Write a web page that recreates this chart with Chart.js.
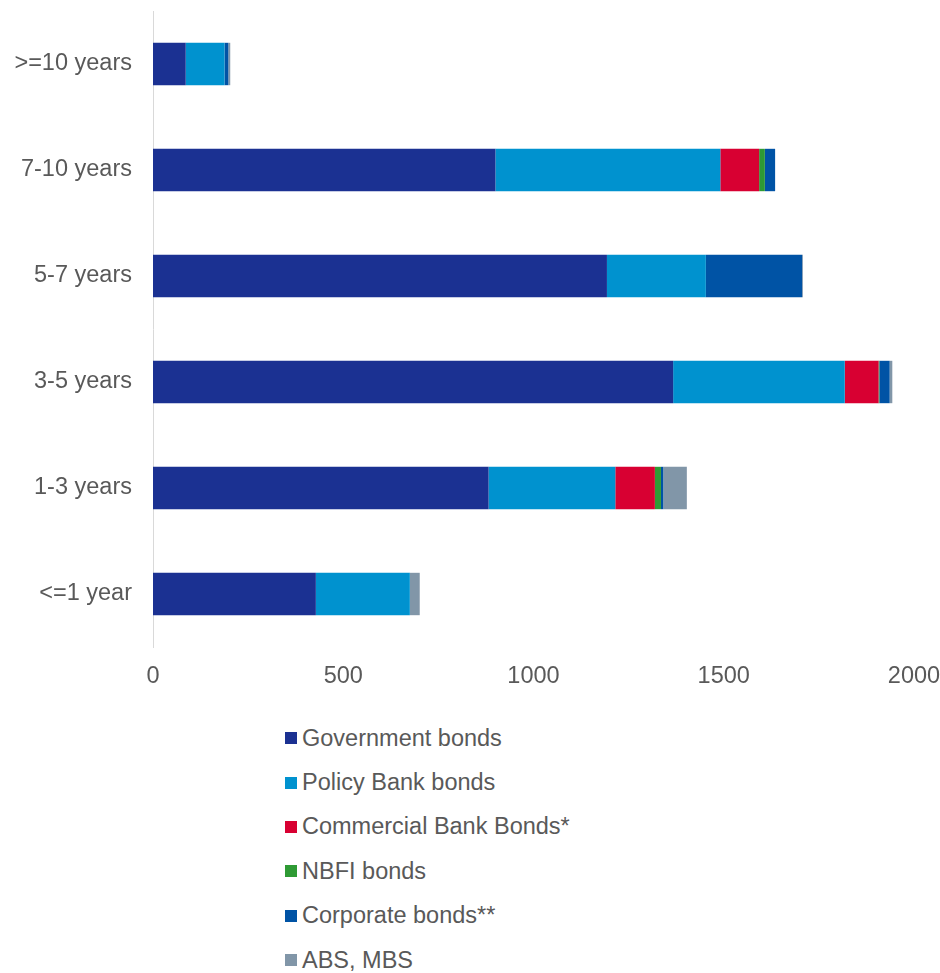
<!DOCTYPE html>
<html>
<head>
<meta charset="utf-8">
<script src="https://cdn.jsdelivr.net/npm/chart.js@4"></script>
<style>
  body { margin: 0; background: #fff; font-family: "Liberation Sans", Arial, sans-serif; }
  #wrap { position: relative; width: 940px; height: 973px; }
  #chart-box { position: absolute; left: 0; top: 0; width: 940px; height: 700px; }
  #legend { position: absolute; left: 285px; top: 716px; margin: 0; padding: 0; list-style: none; }
  #legend li { height: 44.4px; display: flex; align-items: center; font-size: 23.5px; color: #595959; }
  #legend span { display: inline-block; width: 12px; height: 12px; margin-right: 5px; }
</style>
</head>
<body>
<div id="wrap">
  <div id="chart-box"><canvas id="bondChart"></canvas></div>
  <ul id="legend"></ul>
</div>
<script>
// maturity buckets, top to bottom
const maturities = ['>=10 years', '7-10 years', '5-7 years', '3-5 years', '1-3 years', '<=1 year'];

const governmentBonds = [86, 900, 1193, 1367, 882, 428];
const policyBankBonds = [102, 591, 260, 451, 333, 247];
const commercialBankBonds = [0, 102, 0, 89, 104, 0];
const nbfiBonds = [0, 15, 0, 2, 16, 0];
const corporateBonds = [10, 27, 253, 27, 6, 0];
const absMbs = [5, 0, 2, 7, 62, 26];

const xTicks = [0, 500, 1000, 1500, 2000];

const seriesNames = ['Government bonds', 'Policy Bank bonds', 'Commercial Bank Bonds*', 'NBFI bonds', 'Corporate bonds**', 'ABS, MBS'];
const seriesValues = [governmentBonds, policyBankBonds, commercialBankBonds, nbfiBonds, corporateBonds, absMbs];
const seriesColors = ['#1b3192', '#0092cf', '#d80032', '#2e9a34', '#0053a5', '#8196a8'];

const labelFont = { family: '"Liberation Sans", Arial, sans-serif', size: 23.5 };

const datasets = seriesNames.map((name, i) => ({
  label: name,
  data: seriesValues[i],
  backgroundColor: seriesColors[i],
  borderWidth: 0,
  categoryPercentage: 1,
  barPercentage: 0.4
}));

const ctx = document.getElementById('bondChart');

new Chart(ctx, {
  type: 'bar',
  data: { labels: maturities, datasets: datasets },
  options: {
    indexAxis: 'y',
    responsive: true,
    maintainAspectRatio: false,
    animation: false,
    layout: { padding: { top: 11, right: 26, left: 0, bottom: 0 } },
    plugins: {
      legend: { display: false },
      tooltip: { enabled: false }
    },
    scales: {
      x: {
        stacked: true,
        min: 0,
        max: 2000,
        afterBuildTicks: scale => { scale.ticks = xTicks.map(v => ({ value: v })); },
        afterFit: scale => {
          scale.height = 53;
          scale.paddingLeft = 0;
          scale.paddingRight = 0;
        },
        grid: { display: false, drawTicks: false },
        border: { display: false },
        ticks: {
          color: '#595959',
          font: labelFont,
          padding: 15,
          maxRotation: 0,
          callback: value => String(value)
        }
      },
      y: {
        stacked: true,
        afterFit: scale => {
          scale.width = 153;
          // keep the label padding from pushing the plot area down
          scale.paddingTop = 0;
          scale.paddingBottom = 0;
        },
        grid: { display: false, drawTicks: false },
        border: { display: true, color: '#d9d9d9', width: 1 },
        ticks: { color: '#595959', font: labelFont, padding: 21 }
      }
    }
  }
});

// legend as a vertical list under the chart
const legendList = document.getElementById('legend');
seriesNames.forEach((name, i) => {
  const li = document.createElement('li');
  const box = document.createElement('span');
  box.style.background = seriesColors[i];
  li.appendChild(box);
  li.appendChild(document.createTextNode(name));
  legendList.appendChild(li);
});
</script>
</body>
</html>
